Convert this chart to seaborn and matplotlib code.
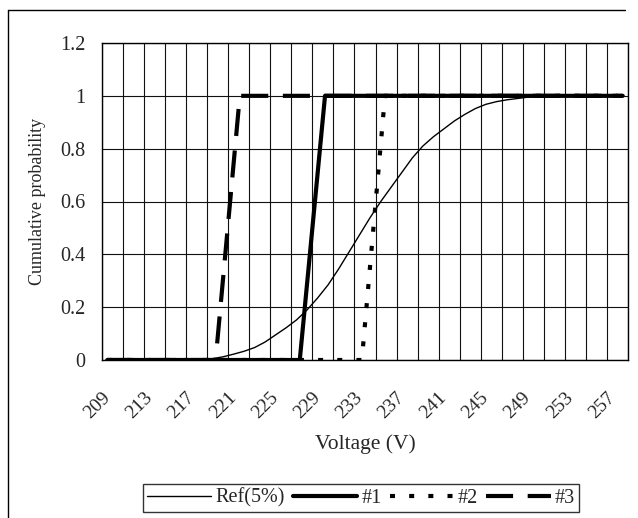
import numpy as np
import pandas as pd
import matplotlib
matplotlib.use("Agg")
import matplotlib.pyplot as plt
from matplotlib.lines import Line2D
from matplotlib.transforms import ScaledTranslation
import seaborn as sns

# ---- data ----
ref_v = list(range(209, 259))
ref_p = [0, 0, 0, 0, 0, 0, 0, 0, 0, 0,
         0.005, 0.012, 0.022, 0.033, 0.047, 0.068, 0.095, 0.122, 0.152, 0.19,
         0.235, 0.285, 0.345, 0.41, 0.475, 0.54, 0.60, 0.655, 0.71, 0.765,
         0.81, 0.845, 0.875, 0.905, 0.93, 0.952, 0.968, 0.978, 0.985, 0.99,
         0.995,
         1, 1, 1, 1, 1, 1, 1, 1, 1]
s1_v = [209, 227.3, 229.7, 258]
s1_p = [0, 0, 1, 1]
s2_v = [209, 233.2, 235.4, 258]
s2_p = [0, 0, 1, 1]
s3_v = [209, 219.3, 221.6, 258]
s3_p = [0, 0, 1, 1]
labels = ["Ref(5%)", "#1", "#2", "#3"]
x_ticks = list(range(209, 258, 4))
y_ticks = [0, 0.2, 0.4, 0.6, 0.8, 1.0, 1.2]
y_tick_labels = ["0", "0.2", "0.4", "0.6", "0.8", "1", "1.2"]

sns.set_theme(style="white")
plt.rcParams["font.family"] = ["Liberation Serif", "DejaVu Serif"]

fig = plt.figure(figsize=(6.38, 5.18), dpi=100)
W, H = 638, 518
ax = fig.add_axes([102 / W, 1 - 360 / H, (628 - 102) / W, (360 - 43) / H])

series = [
    (ref_v, ref_p, dict(lw=1.0, ls="-")),
    (s1_v, s1_p, dict(lw=3.0, ls="-")),
    (s2_v, s2_p, dict(lw=3.0, ls=(0, (1.2, 3.4)))),
    (s3_v, s3_p, dict(lw=3.0, ls=(0, (6.5, 3.5)))),
]
handles = []
for (xv, yv, st), lab in zip(series, labels):
    df = pd.DataFrame({"v": xv, "p": yv})
    before = len(ax.lines)
    sns.lineplot(data=df, x="v", y="p", ax=ax, color="black", sort=False,
                 estimator=None, linewidth=st["lw"], legend=False)
    ln = ax.lines[before]
    ln.set_linestyle(st["ls"])
    ln.set_dash_capstyle("butt")
    handles.append(Line2D([], [], color="black", lw=st["lw"], ls=st["ls"],
                          dash_capstyle="butt", label=lab))

ax.set_xlim(208.5, 258.5)
ax.set_ylim(0, 1.2)
ax.set_xticks(x_ticks)
ax.set_xticklabels([str(t) for t in x_ticks], rotation=45, ha="right",
                   rotation_mode="anchor", va="center", fontsize=14)
shift = ScaledTranslation(-5 / 100, 0, fig.dpi_scale_trans)
for lbl in ax.get_xticklabels():
    lbl.set_transform(lbl.get_transform() + shift)
ax.set_xticks(np.arange(208.5, 258.6, 2), minor=True)
ax.set_yticks(y_ticks)
ax.set_yticklabels(y_tick_labels, fontsize=14.5)
ax.tick_params(axis="both", which="both", length=0)
ax.tick_params(axis="x", pad=25)
ax.tick_params(axis="y", pad=12)
ax.grid(False)
ax.grid(True, which="minor", axis="x", color="#111111", lw=0.8)
ax.grid(True, which="major", axis="y", color="#111111", lw=0.8)
ax.set_axisbelow(True)
for s in ax.spines.values():
    s.set_color("black")
    s.set_linewidth(1.0)

ax.set_xlabel("Voltage (V)", fontsize=15.5, labelpad=9)
ax.set_ylabel("Cumulative probability", fontsize=13, labelpad=10)

leg = fig.legend(handles=handles, loc="center", bbox_to_anchor=(361 / W, 1 - 498 / H),
                 ncol=4, frameon=True, fontsize=14.5, handlelength=3.2,
                 handletextpad=0.2, columnspacing=0.4, borderpad=0.2,
                 borderaxespad=0, fancybox=False)
leg.get_frame().set_edgecolor("black")
leg.get_frame().set_linewidth(1.0)

# chart-area border (top and left visible)
fig.add_artist(Line2D([8 / W, 625 / W], [1 - 10 / H, 1 - 10 / H], transform=fig.transFigure,
                      color="black", lw=1.0))
fig.add_artist(Line2D([8 / W, 8 / W], [0, 1 - 10 / H], transform=fig.transFigure,
                      color="black", lw=1.0))

fig.savefig("out.png", dpi=100, facecolor="white")
